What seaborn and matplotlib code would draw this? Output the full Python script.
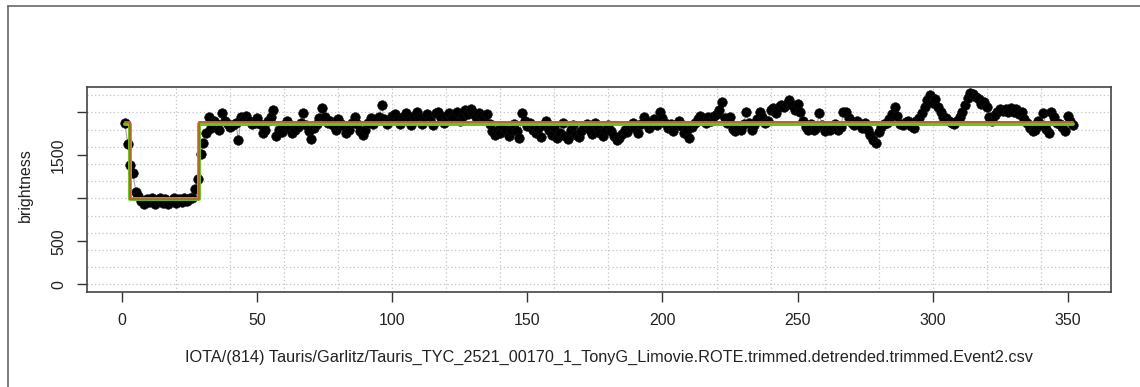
import numpy as np
import pandas as pd
import seaborn as sns
import matplotlib.pyplot as plt
from matplotlib.lines import Line2D

# brightness readings, one per frame (frame 1..352)
dip_start = [1880, 1630, 1390, 1290, 1080, 1030]
dip_bottom = [970, 940, 990, 960, 1000, 930, 980, 1010, 950, 990,
              935, 970, 1000, 945, 990, 960, 1010, 975, 1000]
dip_end = [1010, 1110, 1230, 1520, 1640, 1760]
baseline = [
    1950, 1820, 1900, 1870, 1800, 1990, 1900, 1870, 1830, 1850,
    1880, 1680, 1950, 1920, 1960, 1900, 1860, 1880, 1930, 1870,
    1760, 1800, 1900, 1950, 2030, 1730, 1800, 1770, 1850, 1900,
    1820, 1760, 1790, 1830, 1880, 1990, 1850, 1780, 1690, 1820,
    1870, 1930, 2050, 1950, 1880, 1900, 1850, 1800, 1920, 1870,
    1840, 1760, 1790, 1880, 1950, 1860, 1780, 1740, 1800, 1880,
    1930, 1870, 1900, 1950, 2080, 1920, 1860, 1900, 1960,
    1980, 1920, 1860, 1950, 1990, 1900, 1850, 1960, 2000, 1930,
    1870, 1950, 1980, 1910, 1850, 1990, 2010, 1940, 1880, 1960,
    1990, 1930, 1950, 2010, 1900, 1960, 2030, 1980, 2040, 1990,
    1950, 1990, 1960, 1930, 1980, 1860, 1780, 1740, 1800, 1760,
    1830, 1790, 1720, 1800, 1860, 1780, 1700, 1990, 1900, 1840,
    1880, 1790, 1760, 1820, 1710, 1850, 1900, 1790, 1740, 1830,
    1700, 1760, 1880, 1730, 1690, 1800, 1850, 1740, 1710, 1780,
    1830, 1860, 1790, 1750, 1880, 1820, 1760, 1720, 1800, 1850,
    1780, 1720, 1680, 1700, 1750, 1800, 1770, 1830, 1880, 1820,
    1760, 1870, 1950, 1900, 1820, 1870, 1920, 1850, 2000, 1940,
    1880, 1820, 1860, 1780, 1850, 1900, 1840, 1760, 1800, 1700,
    1830, 1880, 1920, 1960, 1930, 1880, 1950, 1900, 1960, 1980,
    2030, 2120, 1940, 1880, 1950, 1810, 1780, 1830, 1800, 1870,
    2000, 1880, 1800, 1850, 1920, 2000, 1950, 1880, 1900, 2030,
    2050, 1990, 2060, 2090, 2060, 2100, 2140, 2080, 2030, 2100,
    2000, 1900, 1830, 1800, 1860, 1790, 1820, 1990, 1850, 1780,
    1810, 1790, 1830, 1860, 1790, 1830, 2000, 2010, 1940, 1880,
    1850, 1900, 1870, 1820, 1880, 1790, 1740, 1680, 1640, 1770,
    1830, 1860, 1880, 1920, 1980, 2060, 1960, 1870, 1850, 1890,
    1900, 1840, 1820, 1900, 1940, 1990, 2060, 2140, 2200, 2110,
    2150, 2060, 2010, 1950, 1930, 1900, 1880, 1860, 1900, 1950,
    2010, 2090, 2170, 2230, 2210, 2180, 2150, 2100, 2120, 2060,
    1950, 1900, 1970, 2000, 2040, 2020, 2040, 2010, 2050, 2000,
    2040, 1980, 2010, 1920, 1880, 1820, 1780, 1800, 1900, 1850,
    1990, 1810, 1760, 2010, 1950, 1880, 1860, 1830, 1780, 1960,
    1900, 1850,
]
brightness = dip_start + dip_bottom + dip_end + baseline
frame = list(range(1, len(brightness) + 1))

# square-wave event model
d_time = 2.7
r_time = 28.5
b_level = 1862
b_level_cam = 1884
a_level = 992

title_text = "IOTA/(814) Tauris/Garlitz/Tauris_TYC_2521_00170_1_TonyG_Limovie.ROTE.trimmed.detrended.trimmed.Event2.csv"

df = pd.DataFrame({"frame": frame, "brightness": brightness})
model = pd.DataFrame({
    "frame": [frame[0], d_time, d_time, r_time, r_time, frame[-1]],
    "underlying": [b_level, b_level, a_level, a_level, b_level, b_level],
    "camera": [b_level_cam, b_level_cam, a_level, a_level, b_level_cam, b_level_cam],
})

sns.set_style("white")
plt.rcParams["font.family"] = ["Liberation Sans", "DejaVu Sans"]

fig = plt.figure(figsize=(11.4, 3.87), dpi=100)
ax = fig.add_axes([87 / 1140, 1 - 292 / 387, (1111 - 87) / 1140, (292 - 87) / 387])

# dotted grid like R's grid()
for gy in range(0, 2201, 200):
    ax.axhline(gy, color="#c4c4c4", lw=0.9, ls=(0, (1, 2)), zorder=0)
for gx in range(20, 341, 20):
    ax.axvline(gx, color="#c4c4c4", lw=0.9, ls=(0, (1, 2)), zorder=0)

sns.lineplot(data=df, x="frame", y="brightness", sort=False, estimator=None,
             color="#a8a8a8", lw=0.8, ax=ax, zorder=1)
sns.scatterplot(data=df, x="frame", y="brightness", color="black", s=48,
                edgecolor="#111111", linewidth=0.4, ax=ax, zorder=3)
sns.lineplot(data=model, x="frame", y="underlying", sort=False, estimator=None,
             color="#6cc020", lw=2.8, ax=ax, zorder=4)
sns.lineplot(data=model, x="frame", y="camera", sort=False, estimator=None,
             color="#b8652a", lw=1.4, ax=ax, zorder=5)

ax.set_xlim(-13.04, 366.04)
ax.set_ylim(-88.3, 2295)
ax.set_xticks([0, 50, 100, 150, 200, 250, 300, 350])
ax.set_yticks([0, 500, 1000, 1500, 2000])
ax.set_yticklabels(["0", "500", "", "1500", ""], rotation=90, va="center")
ax.tick_params(axis="both", which="both", direction="out", length=7, width=1,
               color="#333333", labelsize=11.5, labelcolor="#222222",
               left=True, bottom=True)
ax.tick_params(axis="x", pad=8)
ax.tick_params(axis="y", pad=8)
for sp in ax.spines.values():
    sp.set_color("#444444")
    sp.set_linewidth(1.2)

ax.set_xlabel("")
ax.set_ylabel("")
fig.text(25 / 1140, 1 - 185 / 387, "brightness", rotation=90, ha="center",
         va="center", fontsize=11.5, color="#222222")
fig.text(609 / 1140, 1 - 357 / 387, title_text, ha="center", va="center",
         fontsize=11.7, color="#222222")

# outer frame of the image (left and top edges)
fig.add_artist(Line2D([8 / 1140, 8 / 1140], [0, 1 - 6 / 387], color="#666666", lw=1.2))
fig.add_artist(Line2D([8 / 1140, 1], [1 - 6 / 387, 1 - 6 / 387], color="#666666", lw=1.2))

fig.savefig("out.png", dpi=100)
